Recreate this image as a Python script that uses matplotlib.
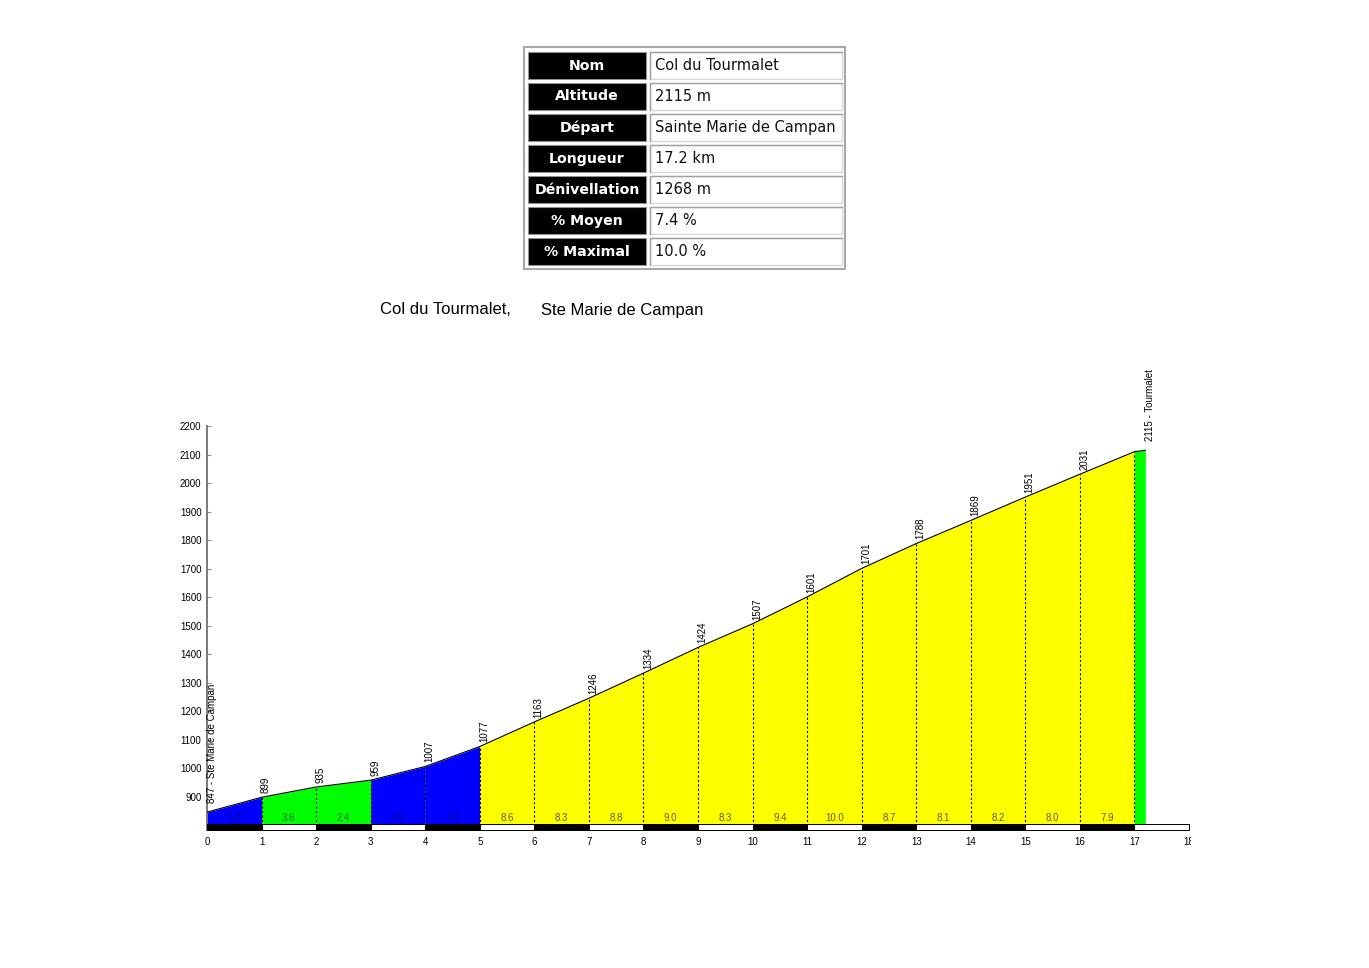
import matplotlib
matplotlib.use('Agg')
import matplotlib.pyplot as plt
from matplotlib.patches import Rectangle
from matplotlib.transforms import Bbox

plt.rcParams['font.family'] = ['Liberation Sans', 'DejaVu Sans']

# ---------------- data ----------------
km = [0, 1, 2, 3, 4, 5, 6, 7, 8, 9, 10, 11, 12, 13, 14, 15, 16, 17, 17.2]
alt = [847, 899, 935, 959, 1007, 1077, 1163, 1246, 1334, 1424, 1507, 1601,
       1701, 1788, 1869, 1951, 2031, 2110, 2115]
grad = [5.2, 3.6, 2.4, 4.9, 7.0, 8.6, 8.3, 8.8, 9.0, 8.3, 9.4, 10.0, 8.7,
        8.1, 8.2, 8.0, 7.9, 2.5]
start_label = "847 - Ste Marie de Campan"
end_label = "2115 - Tourmalet"
yticks = list(range(900, 2201, 100))
xticks = list(range(0, 19))
title_parts = ["Col du Tourmalet,", "Ste Marie de Campan"]
table_labels = ["Nom", "Altitude", "Départ", "Longueur", "Dénivellation",
                "% Moyen", "% Maximal"]
table_values = ["Col du Tourmalet", "2115 m", "Sainte Marie de Campan",
                "17.2 km", "1268 m", "7.4 %", "10.0 %"]


def seg_color(g):
    if g < 4:
        return '#00ff00', '#006000'
    if g < 7.5:
        return '#0000ff', '#000078'
    return '#ffff00', '#5a5a00'


# ---------------- layout ----------------
W, H = 1369, 968
fig = plt.figure(figsize=(W / 100, H / 100), dpi=100)

ppm = (797 - 426) / 1300.0          # pixels per metre
ymin, ymax = 784, 2200
def ypx(v):
    return 426 + (2200 - v) * ppm

x0px, x18px = 207, 1189
bot = ypx(ymin)
ax = fig.add_axes([x0px / W, (H - bot) / H, (x18px - x0px) / W, (bot - 426) / H])
ax.set_facecolor('none')
ax.set_xlim(0, 18)
ax.set_ylim(ymin, ymax)

FS = 7

# filled segments
for i in range(len(km) - 1):
    c, _ = seg_color(grad[i])
    ax.fill_between([km[i], km[i + 1]], 800, [alt[i], alt[i + 1]],
                    color=c, lw=0, zorder=1)

# profile line
ax.plot(km, alt, color='black', lw=0.8, zorder=3)

# dashed km lines
for i in range(1, len(km) - 1):
    ax.plot([km[i], km[i]], [800, alt[i]], color='black', lw=0.8,
            ls=(0, (2, 2)), zorder=2)

# km bar
for k in range(18):
    ax.add_patch(Rectangle((k, ymin + 1), 1, 800 - ymin + 3,
                           facecolor='black' if k % 2 == 0 else 'white',
                           edgecolor='black', lw=0.7, zorder=4, clip_on=False))

# gradient labels
for i in range(len(km) - 1):
    if km[i + 1] - km[i] >= 1:
        _, tc = seg_color(grad[i])
        ax.text((km[i] + km[i + 1]) / 2, 828, f"{grad[i]:.1f}", ha='center',
                va='center', color=tc, fontsize=FS, zorder=5)

# elevation labels
for i in range(1, len(km) - 2):
    ax.annotate(str(alt[i]), (km[i], alt[i]), xytext=(3.2, 3), textcoords='offset points',
                rotation=90, ha='center', va='bottom', fontsize=FS, zorder=5)
ax.annotate(start_label, (km[0], alt[0]), xytext=(3.6, 6.5), textcoords='offset points',
            rotation=90, ha='center', va='bottom', fontsize=FS, zorder=5)
ax.annotate(end_label, (km[-1], alt[-1]), xytext=(3.6, 6.5), textcoords='offset points',
            rotation=90, ha='center', va='bottom', fontsize=FS, zorder=5,
            annotation_clip=False)

# axes
for s in ['top', 'right', 'bottom']:
    ax.spines[s].set_visible(False)
ax.spines['left'].set_bounds(ymin, 2200)
ax.spines['left'].set_color('#707070')
ax.spines['left'].set_linewidth(1.3)
ax.set_yticks(yticks)
ax.set_yticklabels([str(v) for v in yticks])
ax.tick_params(axis='y', direction='in', length=3, width=0.8, color='#b08080',
               labelsize=FS, pad=4)
ax.set_xticks(xticks)
ax.set_xticklabels([str(v) for v in xticks])
ax.tick_params(axis='x', length=0, labelsize=FS, pad=5)
lbl = ax.get_xticklabels()[-1]
lbl.set_clip_on(True)
lbl.set_clip_box(Bbox.from_extents(0, 0, 1191, H))

# ---------------- overlay: table + title ----------------
ov = fig.add_axes([0, 0, 1, 1], zorder=-1)
ov.set_xlim(0, W)
ov.set_ylim(H, 0)
ov.axis('off')

ov.add_patch(Rectangle((524, 47), 321, 222, facecolor='white',
                       edgecolor='#a8a8a8', lw=1.5))
for i, (lab, val) in enumerate(zip(table_labels, table_values)):
    cy = 65 + 31 * i
    ov.add_patch(Rectangle((528, cy - 13.5), 118, 27, facecolor='black',
                           edgecolor='#909090', lw=0.8))
    ov.text(587, cy + 0.5, lab, color='white', fontweight='heavy', family='DejaVu Sans',
            fontsize=10.2, ha='center', va='center')
    ov.add_patch(Rectangle((650, cy - 13.5), 192, 27, facecolor='white',
                           edgecolor='#d8d8d8', lw=1))
    ov.plot([650, 650, 842], [cy + 13.5, cy - 13.5, cy - 13.5], color='#a0a0a0', lw=1)
    ov.text(655, cy + 0.5, val, family='DejaVu Sans', fontsize=10.5, ha='left',
            va='center', color='#111111')

ov.text(380, 310, title_parts[0], fontsize=12, ha='left', va='center')
ov.text(541, 310, title_parts[1], fontsize=12, ha='left', va='center')

fig.savefig('out.png', dpi=100)
